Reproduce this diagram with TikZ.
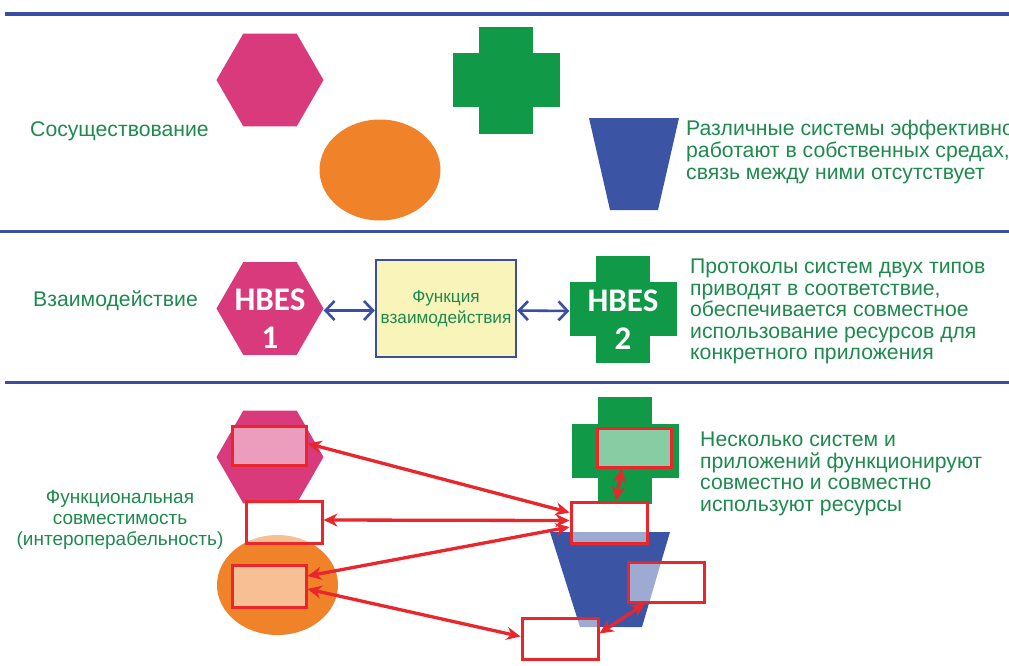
\documentclass[tikz,border=0pt]{standalone}
\usepackage{fontspec}
\setmainfont{Liberation Sans}
\newfontfamily\hbfont{Carlito}
\usetikzlibrary{shapes.geometric,arrows.meta,calc}
\definecolor{lineblue}{RGB}{58,79,163}
\definecolor{hexpink}{RGB}{217,58,124}
\definecolor{crossgreen}{RGB}{16,154,72}
\definecolor{ellorange}{RGB}{240,130,42}
\definecolor{trapblue}{RGB}{59,85,164}
\definecolor{txtgreen}{RGB}{30,138,78}
\definecolor{boxyellow}{RGB}{248,244,186}
\definecolor{arrred}{RGB}{232,38,44}
\begin{document}
\begin{tikzpicture}[x=1pt,y=-1pt,
  hexa/.style={regular polygon, regular polygon sides=6, minimum size=107pt, inner sep=0pt, fill=hexpink},
  ell/.style={ellipse, minimum width=121pt, minimum height=101pt, inner sep=0pt, fill=ellorange},
  crossv/.style={rectangle, minimum width=54pt, minimum height=107pt, inner sep=0pt, fill=crossgreen},
  crossh/.style={rectangle, minimum width=107pt, minimum height=54pt, inner sep=0pt, fill=crossgreen},
  lbl/.style={text=txtgreen, font=\fontsize{21.2}{21.6}\selectfont, align=left, inner sep=0pt},
  hbes/.style={text=white, font=\hbfont\bfseries\fontsize{33}{38}\selectfont, align=center, inner sep=0pt},
  sepline/.style={draw=lineblue, line width=3pt},
  barrow/.style={draw=lineblue, line width=2.6pt, {Straight Barb[length=9pt,width=19pt]}-{Straight Barb[length=9pt,width=19pt]}},
  rbox/.style={draw=arrred, line width=3pt, fill=white, fill opacity=0.5, minimum width=74pt, minimum height=40pt, inner sep=0pt},
  rarrow/.style={draw=arrred, line width=3.3pt, {Stealth[length=14pt,width=13pt]}-{Stealth[length=14pt,width=13pt]}},
]
\clip (0,0) rectangle (1009,665);
\fill[white] (0,0) rectangle (1009,665);
% separator lines
\draw[sepline, line width=3.5pt] (5,14) -- (1009,14);
\draw[sepline] (0,231) -- (1009,231);
\draw[sepline] (5,382) -- (1009,382);

% ---------- top section ----------
\node[hexa] (t1) at (270,80) {};
\node[crossv] (t2v) at (506,80) {};
\node[crossh] (t2) at (506,80) {};
\node[ell] (t3) at (380,170) {};
\fill[trapblue] (589,118) -- (679,118) -- (658,210) -- (610,210) -- cycle;
\node[lbl, anchor=west] (tl) at (30,131) {Сосуществование};
\node[lbl, anchor=west] (tr) at (686,152) {Различные системы эффективно\\работают в собственных средах,\\связь между ними отсутствует};

% ---------- middle section ----------
\node[hexa] (h1) at (270,308.5) {};
\node[hbes] (h1t) at (270,319) {HBES\\1};
\node[crossv] (h2v) at (623,309) {};
\node[crossh] (h2) at (623,309) {};
\node[hbes] (h2t) at (623,320) {HBES\\2};
\node[draw=lineblue, line width=2.4pt, fill=boxyellow, minimum width=140pt, minimum height=97pt, inner sep=0pt,
      text=txtgreen, font=\fontsize{17.2}{21}\selectfont, align=center] (fb) at (446,308.5) {Функция\\взаимодействия};
\draw[barrow] ([yshift=-2pt]h1.east) -- ([yshift=-2pt]fb.west);
\draw[barrow] ([yshift=-2pt]fb.east) -- ([yshift=-2pt]h2.west);
\node[lbl, anchor=west] (ml) at (33,301) {Взаимодействие};
\node[lbl, anchor=west] (mr) at (690,311.5) {Протоколы систем двух типов\\приводят в соответствие,\\обеспечивается совместное\\использование ресурсов для\\конкретного приложения};

% ---------- bottom section ----------
\node[hexa] (b1) at (270,457) {};
\node[ell, minimum height=100pt] (b3) at (277.5,585) {};
\node[crossv] (b2v) at (625,450.5) {};
\node[crossh] (b2) at (625,450.5) {};
\fill[trapblue] (550,532) -- (670,532) -- (642,627) -- (580,627) -- cycle;

\node[rbox, minimum height=39pt] (pb) at (269,445.5) {};
\node[rbox, minimum width=76pt, minimum height=42pt] (wl) at (284,522) {};
\node[rbox, minimum height=42pt] (ob) at (269,586) {};
\node[rbox, minimum height=39pt] (gb) at (634,447.5) {};
\node[rbox, minimum width=76pt, minimum height=41pt] (wr) at (609,522.5) {};
\node[rbox, minimum width=76pt] (rb) at (666,582) {};
\node[rbox, minimum width=76pt, minimum height=41pt] (bb) at (560,638.5) {};

\draw[rarrow] ([yshift=2pt]pb.east) -- ([yshift=10pt]wr.west);
\draw[rarrow] ([yshift=2pt]wl.east) -- ([yshift=2pt]wr.west);
\draw[rarrow] ([yshift=10pt]ob.east) -- ([yshift=-4.5pt]wr.west);
\draw[rarrow] ([yshift=-3pt]ob.east) -- ([yshift=2pt]bb.west);
\draw[rarrow] ([xshift=-12pt]gb.south) -- ([xshift=7pt]wr.north);
\draw[rarrow] ([yshift=5pt]bb.east) -- ([xshift=-21pt]rb.south);

\node[lbl, align=center, font=\fontsize{19}{21}\selectfont] (bl) at (120,520) {Функциональная\\совместимость\\(интероперабельность)};
\node[lbl, anchor=west] (br) at (700,474) {Несколько систем и\\приложений функционируют\\совместно и совместно\\используют ресурсы};
\end{tikzpicture}
\end{document}
